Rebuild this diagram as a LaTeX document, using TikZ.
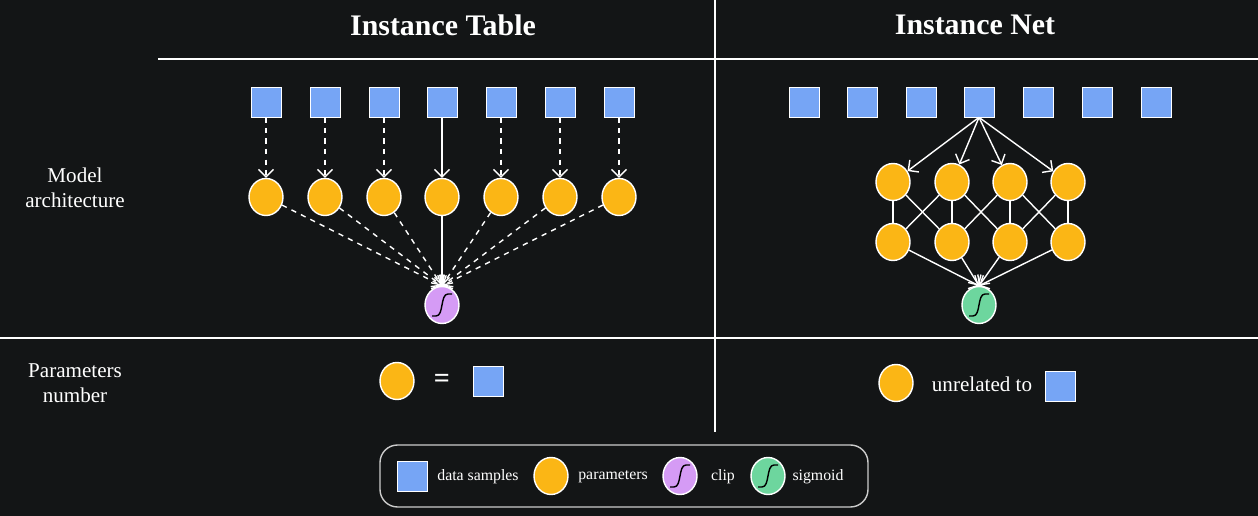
\documentclass[tikz,border=0pt]{standalone}
\usepackage{fontspec}
\setmainfont{Liberation Serif}
\usetikzlibrary{arrows.meta,shapes.geometric}
\definecolor{bgdark}{HTML}{131516}
\definecolor{sampleblue}{HTML}{76A5F5}
\definecolor{paramorange}{HTML}{FBB615}
\definecolor{clippurple}{HTML}{D59BF5}
\definecolor{siggreen}{HTML}{6DD69E}
\tikzset{
  sample/.style={rectangle, draw=white, fill=sampleblue, minimum size=0.6cm, inner sep=0pt},
  param/.style={ellipse, draw=white, thick, fill=paramorange, minimum width=0.68cm, minimum height=0.74cm, inner sep=0pt},
  curve/.style={path picture={\draw[black, thick] ([shift={(-0.2cm,-0.22cm)}]path picture bounding box.center) -- ++(0.08cm,0cm) .. controls +(0.16cm,0cm) and +(-0.16cm,0cm) .. ++(0.24cm,0.44cm) -- ++(0.08cm,0cm);}},
  clipnode/.style={param, fill=clippurple, curve},
  signode/.style={param, fill=siggreen, curve},
  link/.style={-{Straight Barb[length=1.5mm]}, white, thick},
  label/.style={text=white, font=\fontsize{12}{14}\selectfont, align=center},
  legend/.style={text=white, font=\fontsize{9}{11}\selectfont}
}
\begin{document}
\begin{tikzpicture}[x=0.02cm, y=-0.02cm]
    % Background
    \fill[bgdark] (0,0) rectangle (1258,516);
    \useasboundingbox (0,0) rectangle (1258,516);

    % Grid lines
    \draw[white, thick] (158,59) -- (1258,59);
    \draw[white, thick] (0,338) -- (1258,338);
    \draw[white, thick] (715,0) -- (715,432);

    % Headings
    \node[text=white, font=\fontsize{17}{20}\selectfont\bfseries] (tabtitle) at (443,25) {Instance Table};
    \node[text=white, font=\fontsize{17}{20}\selectfont\bfseries] (nettitle) at (975,25) {Instance Net};
    \node[label] (archlabel) at (75,188) {Model\\architecture};
    \node[label] (numlabel) at (75,383) {Parameters\\number};

    % Instance table
    \node[clipnode] (clip) at (442,305) {};
    \foreach \i/\x in {1/266,2/325,3/384,4/442,5/501,6/560,7/619} {
        \node[sample] (ts\i) at (\x,102) {};
        \node[param] (tp\i) at (\x,197) {};
    }
    \foreach \i in {1,2,3,5,6,7} {
        \draw[link, dashed] (ts\i) -- (tp\i);
        \draw[link, dashed] (tp\i) -- (clip.north);
    }
    \draw[link] (ts4) -- (tp4);
    \draw[link] (tp4) -- (clip.north);

    % Instance net
    \foreach \i/\x in {1/804,2/862,3/921,4/979,5/1038,6/1097,7/1156}
        \node[sample] (ns\i) at (\x,102) {};
    \node[signode] (sig) at (979,305) {};
    \foreach \i/\x in {1/893,2/952,3/1010,4/1068} {
        \node[param] (na\i) at (\x,182) {};
        \node[param] (nb\i) at (\x,242) {};
        \draw[link] (ns4.south) -- (na\i);
        \draw[link] (nb\i) -- (sig.north);
        \draw[white, thick] (na\i) -- (nb\i);
    }
    \foreach \i/\j in {1/2,2/3,3/4} {
        \draw[white, thick] (na\i) -- (nb\j);
        \draw[white, thick] (na\j) -- (nb\i);
    }

    % Parameter counts
    \node[param] (eqparam) at (397,381) {};
    \node[text=white, font=\fontsize{16}{18}\selectfont\bfseries] (eqsign) at (442,381) {=};
    \node[sample] (eqsample) at (488,381) {};
    \node[param] (unparam) at (896,383) {};
    \node[text=white, font=\fontsize{12}{14}\selectfont] (untext) at (982,384) {unrelated to};
    \node[sample] (unsample) at (1060,386) {};

    % Legend
    \draw[white!80!black, thick, rounded corners=10] (380,445) rectangle (868,507);
    \node[sample] (legsample) at (412,476) {};
    \node[legend] (legsampletext) at (478,477) {data samples};
    \node[param] (legparam) at (551,476) {};
    \node[legend] (legparamtext) at (613,477) {parameters};
    \node[clipnode] (legclip) at (680,476) {};
    \node[legend] (legcliptext) at (723,477) {clip};
    \node[signode] (legsig) at (768,476) {};
    \node[legend] (legsigtext) at (818,477) {sigmoid};
\end{tikzpicture}
\end{document}
